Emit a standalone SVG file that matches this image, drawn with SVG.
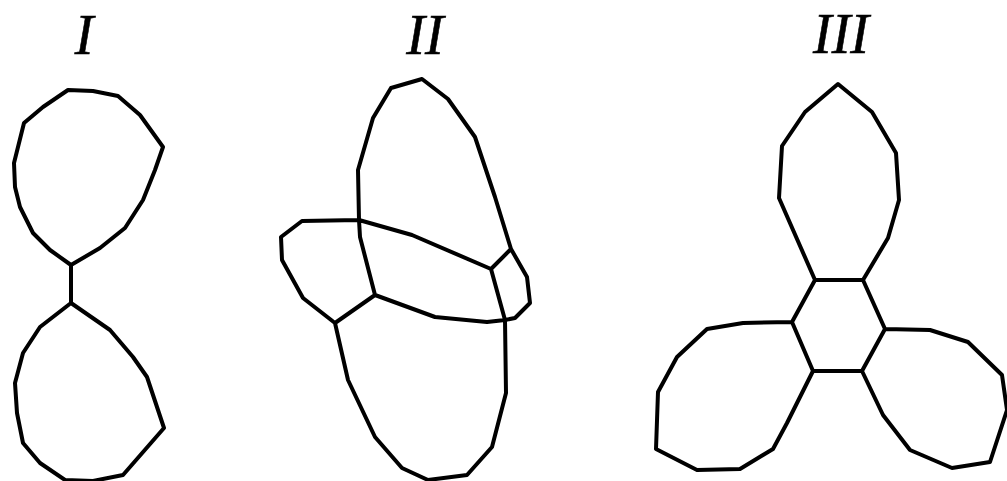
<svg xmlns="http://www.w3.org/2000/svg" width="1007" height="481" viewBox="0 0 1007 481">
<style>
.l{font-family:"Liberation Serif",serif;font-style:italic;font-size:56px;fill:#000;stroke:#000;stroke-width:.6;text-anchor:middle}
path{fill:none;stroke:#000;stroke-width:4;stroke-linejoin:round;stroke-linecap:round}
</style>
<rect width="1007" height="481" fill="#fff"/>
<text class="l" x="84" y="54">I</text>
<text class="l" x="425" y="54">II</text>
<text class="l" x="841" y="53">III</text>
<g id="fig1">
<path d="M71 265L50 250L33 233L20 207L15 187L14 163L24 123L43 107L68 90L93 91L118 96L140 115L163 147L155 170L143 200L125 228L100 248L71 265ZM71 265L71 303M71 303L40 327L23 353L15 383L17 413L23 443L40 463L65 480L93 481L123 475L164 428L147 377L133 357L110 330L71 303Z"/>
</g>
<g id="fig2">
<path d="M335 323L303 298L282 260L281 237L302 221L359 220L412 235L491 269L511 249L495 197L475 137L448 99L422 79L391 88L373 118L358 170L359 220L360 237L375 295L335 323L348 380L375 437L402 468L428 480L467 475L492 447L506 393L505 320L491 269M511 249L527 277L530 303L515 318L505 320L487 322L435 317L375 295"/>
</g>
<g id="fig3">
<path d="M815 280L779 198L782 146L805 112L838 84L872 112L896 153L899 200L888 238L863 280L815 280L792 322L813 371L862 371L885 329L863 280M792 322L743 323L707 329L677 357L658 392L656 449L697 470L740 469L773 449L787 423L813 371M885 329L930 330L968 342L1002 375L1007 410L990 462L952 468L910 450L883 415L862 371"/>
</g>
</svg>
